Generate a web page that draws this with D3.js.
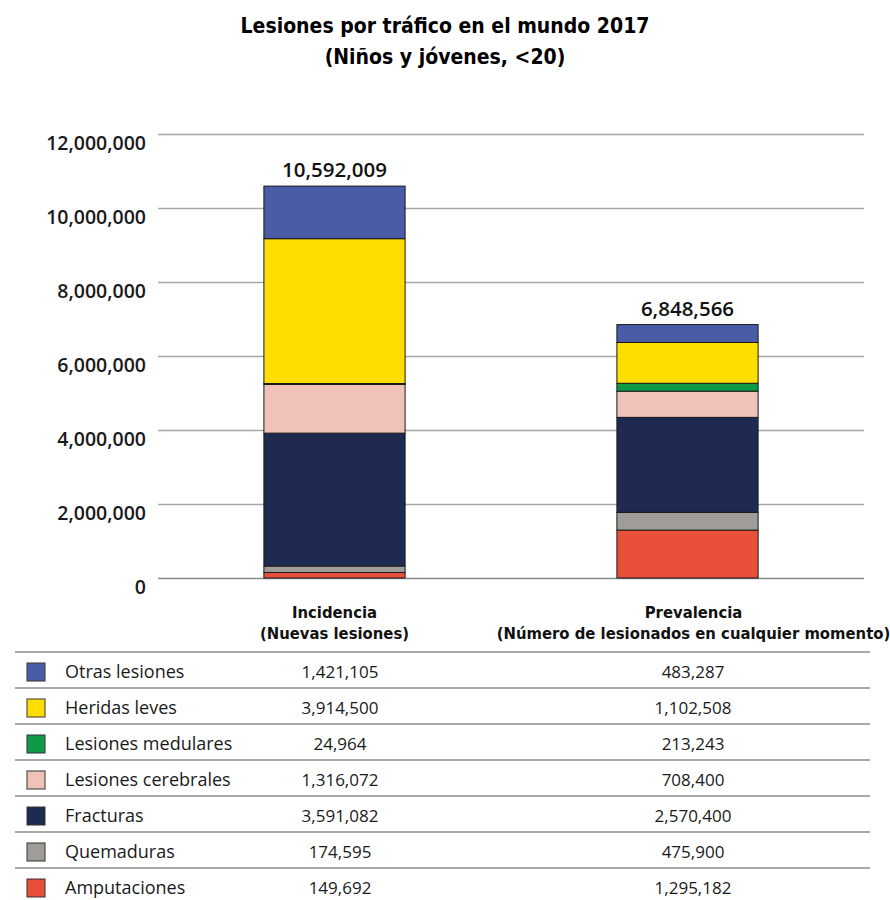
<!DOCTYPE html>
<html><head><meta charset="utf-8">
<script src="https://cdn.jsdelivr.net/npm/d3@7"></script>
<style>body{margin:0;background:#fff}</style>
</head><body>
<svg id="c" width="890" height="900"></svg>
<script>
const categories = ["Incidencia", "Prevalencia"];
const categorySub = ["(Nuevas lesiones)", "(Número de lesionados en cualquier momento)"];
const totalLabels = ["10,592,009", "6,848,566"];
const series = ["Otras lesiones","Heridas leves","Lesiones medulares","Lesiones cerebrales","Fracturas","Quemaduras","Amputaciones"];
const colors = ["#4A5CA6","#FFDD00","#0E9A47","#EFC3BA","#1F2A52","#A09D99","#E8503A"];
const incidencia = [1421105,3914500,24964,1316072,3591082,174595,149692];
const prevalencia = [483287,1102508,213243,708400,2570400,475900,1295182];
const yTicks = [0,2000000,4000000,6000000,8000000,10000000,12000000];

const svg = d3.select("#c");
const condensed = "'Liberation Sans Narrow','DejaVu Sans Condensed',sans-serif";
const sans = "'Open Sans',Lato,sans-serif";

// Title
svg.append("text").attr("x",445).attr("y",33).attr("text-anchor","middle")
  .style("font-family",condensed).style("font-weight","bold").style("font-size","21px")
  .text("Lesiones por tráfico en el mundo 2017");
svg.append("text").attr("x",445).attr("y",64).attr("text-anchor","middle")
  .style("font-family",condensed).style("font-weight","bold").style("font-size","21px")
  .text("(Niños y jóvenes, <20)");

const x = d3.scaleBand().domain(categories).range([158,864]).paddingInner(0.6).paddingOuter(0.3);
const y = d3.scaleLinear().domain([0,12000000]).range([578,134]);

// gridlines
const yAxis = d3.axisLeft(y).tickValues(yTicks).tickSize(-(864-158)).tickFormat(d3.format(","));
const ga = svg.append("g").attr("transform","translate(158,0)").call(yAxis);
ga.select(".domain").remove();
ga.selectAll(".tick line").attr("stroke","#a6a6a6").attr("stroke-width",1.5);
ga.selectAll(".tick text").attr("x",-12).attr("dy","0.78em")
  .attr("fill","#1a1a1a").style("font-family",sans).style("font-weight","600").style("font-size","19.5px");
ga.selectAll(".tick").filter(d=>d===0).select("line").attr("stroke","#8a8a8a");

// stacked data
const rows = categories.map((c,i)=>{
  const o = {cat:c};
  series.forEach((s,j)=>{ o[s] = (i===0?incidencia:prevalencia)[j]; });
  return o;
});
const stack = d3.stack().keys(series.slice().reverse());
const layers = stack(rows);
const color = d3.scaleOrdinal().domain(series).range(colors);

svg.append("g").selectAll("g").data(layers).join("g")
  .attr("fill",d=>color(d.key))
  .selectAll("rect").data(d=>d).join("rect")
  .attr("x",d=>x(d.data.cat))
  .attr("width",x.bandwidth())
  .attr("y",d=>y(d[1]))
  .attr("height",d=>y(d[0])-y(d[1]))
  .attr("stroke","#1a1a1a").attr("stroke-width",1);

// totals
svg.append("g").selectAll("text").data(categories).join("text")
  .attr("x",d=>x(d)+x.bandwidth()/2)
  .attr("y",(d,i)=>y(d3.sum(i===0?incidencia:prevalencia))-9)
  .attr("text-anchor","middle")
  .style("font-family",sans).style("font-weight","600").style("font-size","20.5px").attr("fill","#111")
  .text((d,i)=>totalLabels[i]);

// category labels
const cl = svg.append("g").selectAll("text").data(categories).join("text")
  .attr("text-anchor","middle")
  .style("font-family",condensed).style("font-weight","bold").style("font-size","16.5px").attr("fill","#111");
cl.append("tspan").attr("x",(d,i)=>x(d)+x.bandwidth()/2 + (i===1?6:0)).attr("y",618).text(d=>d);
cl.append("tspan").attr("x",(d,i)=>x(d)+x.bandwidth()/2 + (i===1?6:0)).attr("y",639).text((d,i)=>categorySub[i]);

// table
const rowY = d3.scaleBand().domain(series).range([652, 904]);
const fmt = d3.format(",");
const tg = svg.append("g").selectAll("g").data(series).join("g")
  .attr("transform",d=>`translate(0,${rowY(d)})`);
tg.append("line").attr("x1",15).attr("x2",870).attr("y1",0).attr("y2",0)
  .attr("stroke","#8c8c8c").attr("stroke-width",1.3);
tg.append("rect").attr("x",27).attr("y",11).attr("width",18).attr("height",18)
  .attr("fill",d=>color(d)).attr("stroke","#333").attr("stroke-width",1);
tg.append("text").attr("x",65).attr("y",26)
  .style("font-family",sans).style("font-size","18px").attr("fill","#1a1a1a").text(d=>d);
tg.append("text").attr("x",340).attr("y",26).attr("text-anchor","middle")
  .style("font-family",sans).style("font-size","17px").attr("fill","#1a1a1a")
  .text((d,i)=>fmt(incidencia[i]));
tg.append("text").attr("x",693).attr("y",26).attr("text-anchor","middle")
  .style("font-family",sans).style("font-size","17px").attr("fill","#1a1a1a")
  .text((d,i)=>fmt(prevalencia[i]));
</script>
</body></html>
